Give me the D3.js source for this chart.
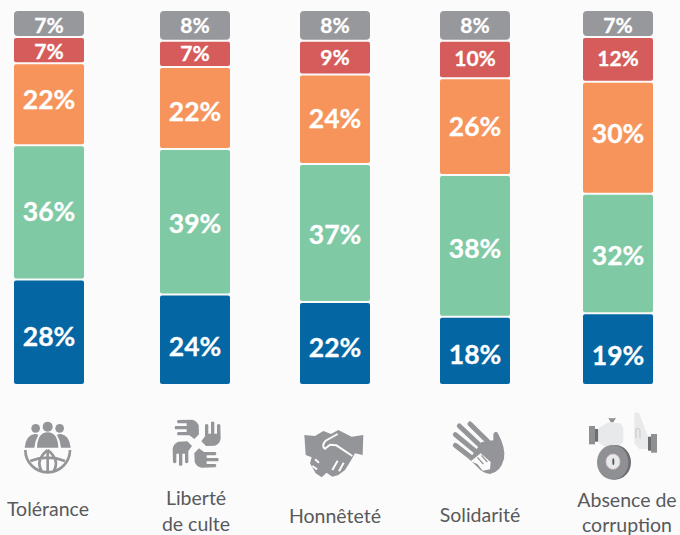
<!DOCTYPE html>
<html>
<head>
<meta charset="utf-8">
<script src="https://cdn.jsdelivr.net/npm/d3@7"></script>
<style>
  html, body { margin: 0; padding: 0; background: #fbfbfb; overflow: hidden; }
</style>
</head>
<body>
<script>
// values, bottom segment first
var categories = ["Tolérance", "Liberté de culte", "Honnêteté", "Solidarité", "Absence de corruption"];
var blueValues = [28, 24, 22, 18, 19];
var greenValues = [36, 39, 37, 38, 32];
var orangeValues = [22, 22, 24, 26, 30];
var redValues = [7, 7, 9, 10, 12];
var greyValues = [7, 8, 8, 8, 7];
var seriesNames = ["blue", "green", "orange", "red", "grey"];
var seriesColors = ["#0566a4", "#80c9a5", "#f7945c", "#d55c5a", "#97989c"];
var labelLines = [["Tolérance"], ["Liberté", "de culte"], ["Honnêteté"], ["Solidarité"], ["Absence de", "corruption"]];

var width = 680, height = 535;
var barWidth = 70;
var iconGrey = "#949598";

var svg = d3.select("body").append("svg")
    .attr("width", width)
    .attr("height", height)
    .style("display", "block")
    .style("font-family", "Lato, sans-serif");

// bars are not evenly spaced in the original
var x = d3.scaleOrdinal().domain(categories).range([49, 195, 335, 475, 618]);
var y = d3.scaleLinear().domain([0, 100]).range([384, 11]);
var color = d3.scaleOrdinal().domain(seriesNames).range(seriesColors);

// the percentages are hand placed in the original, not centred
var labelNudge = {
    blue: [4, 7, 4, 4, 6],
    green: [-1, 2, 2, 2, 2],
    orange: [-5, 3, -1, 0, -4],
    red: [1, 0, 0, -1, -1],
    grey: [2, 0, 0, 0, 2]
};

// build rows for the stack
var rows = categories.map(function(c, i) {
    return {
        category: c,
        index: i,
        blue: blueValues[i],
        green: greenValues[i],
        orange: orangeValues[i],
        red: redValues[i],
        grey: greyValues[i]
    };
});
var stacked = d3.stack().keys(seriesNames)(rows);

function segTop(p) { return y(p.d[1]) + (p.key == "grey" ? 0 : 1); }
function segBottom(p) { return y(p.d[0]) - (p.key == "blue" ? 0 : 1); }

var layers = svg.selectAll(".layer")
    .data(stacked)
    .enter()
    .append("g")
    .attr("class", "layer");

layers.selectAll("rect")
    .data(function(s) { return s.map(function(d) { return {key: s.key, d: d}; }); })
    .enter()
    .append("rect")
    .attr("x", function(p) { return x(p.d.data.category) - barWidth / 2; })
    .attr("y", segTop)
    .attr("width", barWidth)
    .attr("height", function(p) { return segBottom(p) - segTop(p); })
    .attr("rx", function(p) { return p.key == "grey" ? 4 : 2; })
    .attr("fill", function(p) { return color(p.key); });

layers.selectAll("text")
    .data(function(s) { return s.map(function(d) { return {key: s.key, d: d}; }); })
    .enter()
    .append("text")
    .attr("x", function(p) { return x(p.d.data.category); })
    .attr("y", function(p) { return (segTop(p) + segBottom(p)) / 2 + labelNudge[p.key][p.d.data.index]; })
    .attr("dy", ".36em")
    .attr("text-anchor", "middle")
    .attr("fill", "#fff")
    .attr("stroke", "#fff")
    .attr("stroke-width", 0.3)
    .attr("font-weight", 700)
    .attr("font-size", function(p) { return (p.d[1] - p.d[0]) < 15 ? 21 : 26.5; })
    .text(function(p) { return (p.d[1] - p.d[0]) + "%"; });

// category labels
var labelCenters = [48, 196, 335, 480, 627];
var labelBaselines = [516, 505, 523, 522, 507];
var labelLineGaps = [0, 26, 0, 0, 24.5];
svg.selectAll(".label")
    .data(labelLines)
    .enter()
    .append("text")
    .attr("class", "label")
    .attr("text-anchor", "middle")
    .attr("fill", "#58595b")
    .attr("font-size", 19.5)
    .each(function(lines, i) {
        d3.select(this).selectAll("tspan")
            .data(lines)
            .enter()
            .append("tspan")
            .attr("x", labelCenters[i])
            .attr("y", function(l, j) { return labelBaselines[i] + j * labelLineGaps[i]; })
            .text(function(l) { return l; });
    });

// icons, drawn in coordinates 3x the page size
function icon(px, py) {
    return svg.append("g")
        .attr("class", "icon")
        .attr("transform", "translate(" + px + "," + py + ") scale(" + 1 / 3 + ")");
}

// tolerance: three people over a globe
var i1 = icon(15, 415);
i1.selectAll("circle")
    .data([[62, 40, 13], [98, 35, 15], [134, 40, 13]])
    .enter().append("circle")
    .attr("cx", function(d) { return d[0]; })
    .attr("cy", function(d) { return d[1]; })
    .attr("r", function(d) { return d[2]; })
    .attr("fill", iconGrey);
i1.append("path").attr("fill", iconGrey)
    .attr("d", "M29,98 Q32,62 58,57 Q66,56 70,60 Q60,76 58,98 Z M167,98 Q164,62 138,57 Q130,56 126,60 Q136,76 138,98 Z M66,98 Q68,52 98,52 Q128,52 130,98 Z");
i1.append("path").attr("fill", "none").attr("stroke", iconGrey).attr("stroke-width", 8)
    .attr("d", "M31,105 A67,67 0 0 0 165,105 M98,105 L98,170 M98,105 Q60,135 80,168 M98,105 Q136,135 116,168 M46,138 Q98,118 150,138");

// freedom of worship: four hands in a pinwheel
var i2 = icon(160, 412);
[0, 90, 180, 270].forEach(function(a) {
    i2.append("path").attr("fill", iconGrey)
        .attr("transform", "translate(110,95) rotate(" + a + ")")
        .attr("d", "M14,-7 L25,-22 L25,-56 Q30,-62 35,-56 L35,-30 L43,-30 L43,-64 Q48,-69 53,-64 L53,-30 L61,-30 L61,-56 Q66,-62 71,-56 L72,-15 Q70,0 55,6 L28,7 Z");
});

// honesty: handshake
var i3 = icon(295, 420);
i3.append("path").attr("fill", iconGrey)
    .attr("d", "M28,45 L60,48 L85,33 L108,42 L130,30 L170,50 L205,45 L203,105 L180,100 L170,118 L150,150 L130,165 L112,170 L95,158 L80,172 L62,160 L45,130 L50,112 L32,105 Z");
i3.append("path").attr("fill", "none").attr("stroke", "#fbfbfb").attr("stroke-width", 6)
    .attr("d", "M172,108 L124,76 L105,74 L90,86 Q78,78 92,62 L128,42 M128,122 L112,150 M146,128 L132,154 M60,118 L72,128 M52,138 L66,148");

// solidarity: small hand over a big one
var i4 = icon(440, 412);
i4.append("path").attr("fill", iconGrey)
    .attr("d", "M125,90 L160,85 L160,66 Q168,52 175,66 Q198,110 192,140 Q182,180 150,186 Q128,184 112,165 L88,142 Z");
i4.append("g").attr("fill", "none").attr("stroke", iconGrey).attr("stroke-width", 15).attr("stroke-linecap", "round")
    .selectAll("path")
    .data(["M90,36 L145,90", "M58,42 L125,105", "M46,68 L115,125", "M46,100 L100,142"])
    .enter().append("path")
    .attr("d", function(d) { return d; });
i4.append("path").attr("fill", "#fbfbfb")
    .attr("d", "M92,148 L122,124 L152,150 L150,172 L128,176 L112,156 Z");
i4.append("path").attr("fill", "none").attr("stroke", iconGrey).attr("stroke-width", 4)
    .attr("d", "M112,136 L130,156 M124,130 L142,150 M132,126 L150,146");

// no corruption: padlock and two hands
var i5 = icon(580, 405);
i5.append("rect").attr("x", 27).attr("y", 63).attr("width", 18).attr("height", 55).attr("fill", "#8f9093");
i5.append("rect").attr("x", 45).attr("y", 72).attr("width", 10).attr("height", 38).attr("fill", "#6d6e70");
i5.append("path").attr("fill", "#e8e9ea")
    .attr("d", "M55,70 L85,52 L122,55 L130,70 L130,110 L115,125 L75,125 L55,112 Z");
i5.append("path").attr("fill", "#8f9093").attr("d", "M85,38 Q96,42 108,38 L100,52 L92,52 Z");
i5.append("path").attr("fill", "#e9eaeb").attr("d", "M163,26 Q170,18 178,26 L205,98 L205,132 L178,132 L163,115 Z");
i5.append("path").attr("fill", "none").attr("stroke", "#c4c5c7").attr("stroke-width", 3)
    .attr("d", "M168,100 L168,72 Q176,66 180,76 L180,100");
i5.append("rect").attr("x", 213).attr("y", 87).attr("width", 18).attr("height", 56).attr("fill", "#8f9093");
i5.append("rect").attr("x", 204).attr("y", 95).attr("width", 9).attr("height", 42).attr("fill", "#6d6e70");
i5.append("ellipse").attr("cx", 105).attr("cy", 172).attr("rx", 48).attr("ry", 52).attr("fill", "#6d6e70");
i5.append("ellipse").attr("cx", 98).attr("cy", 172).attr("rx", 47).attr("ry", 52).attr("fill", "#8f9093");
i5.append("ellipse").attr("cx", 99).attr("cy", 170).attr("rx", 21).attr("ry", 23).attr("fill", "#e8e9ea").attr("stroke", "#d9bcc4").attr("stroke-width", 2);
i5.append("ellipse").attr("cx", 100).attr("cy", 170).attr("rx", 3).attr("ry", 10).attr("fill", "#58595b");
</script>
</body>
</html>
